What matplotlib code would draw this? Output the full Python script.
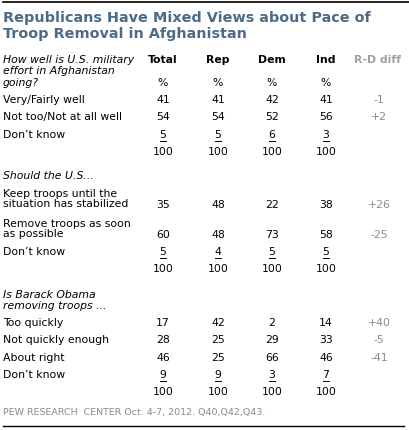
import matplotlib
matplotlib.use("Agg")
import matplotlib.pyplot as plt

title_lines = ["Republicans Have Mixed Views about Pace of", "Troop Removal in Afghanistan"]
columns = ["Total", "Rep", "Dem", "Ind"]
diff_header = "R-D diff"

q1_text = ["How well is U.S. military", "effort in Afghanistan", "going?"]
q1_rows = ["Very/Fairly well", "Not too/Not at all well", "Don\u2019t know"]
q1_values = [[41, 41, 42, 41], [54, 54, 52, 56], [5, 5, 6, 3]]
q1_diff = ["-1", "+2", ""]

q2_text = ["Should the U.S..."]
q2_rows = ["Keep troops until the\nsituation has stabilized", "Remove troops as soon\nas possible", "Don\u2019t know"]
q2_values = [[35, 48, 22, 38], [60, 48, 73, 58], [5, 4, 5, 5]]
q2_diff = ["+26", "-25", ""]

q3_text = ["Is Barack Obama", "removing troops ..."]
q3_rows = ["Too quickly", "Not quickly enough", "About right", "Don\u2019t know"]
q3_values = [[17, 42, 2, 14], [28, 25, 29, 33], [46, 25, 66, 46], [9, 9, 3, 7]]
q3_diff = ["+40", "-5", "-41", ""]

footer = "PEW RESEARCH  CENTER Oct. 4-7, 2012. Q40,Q42,Q43."

W, H = 409, 431
fig = plt.figure(figsize=(W / 100, H / 100), dpi=100)
ax = fig.add_axes([0, 0, 1, 1])
ax.set_xlim(0, W)
ax.set_ylim(H, 0)
ax.axis("off")

title_color = "#4d6a87"
grey = "#8c8c8c"
fs = 7.8
col_x = [163, 218, 272, 326]
diff_x = 378

ax.plot([3, 409], [3, 3], color="black", lw=1.2)
ax.plot([3, 404], [427, 427], color="black", lw=1.0)

for i, t in enumerate(title_lines):
    ax.text(3, 18 + i * 16, t, fontsize=10.4, fontweight="bold", color=title_color,
            va="center", ha="left")

for x, c in zip(col_x, columns):
    ax.text(x, 60, c, fontsize=fs, fontweight="bold", ha="center", va="center")
ax.text(diff_x, 60, diff_header, fontsize=fs, fontweight="bold", color="#a0a0a0",
        ha="center", va="center")


def value_cell(x, y, v, underline):
    ax.text(x, y, str(v), fontsize=fs, ha="center", va="center")
    if underline:
        w = 3.4 * len(str(v))
        ax.plot([x - w, x + w], [y + 6.5, y + 6.5], color="black", lw=0.7)


def block(qtext, qy, rows, values, diffs, row_y, total_y, pct_y=None):
    for i, t in enumerate(qtext):
        ax.text(3, qy + i * 11.5, t, fontsize=fs, style="italic", ha="left", va="center")
    if pct_y is not None:
        for x in col_x:
            ax.text(x, pct_y, "%", fontsize=fs, ha="center", va="center")
    for r, (label, vals, d, y) in enumerate(zip(rows, values, diffs, row_y)):
        nlines = label.count("\n") + 1
        ax.text(3, y - (nlines - 1) * 6, label, fontsize=fs, ha="left", va="center",
                linespacing=1.12)
        last = r == len(rows) - 1
        for x, v in zip(col_x, vals):
            value_cell(x, y, v, last)
        if d:
            ax.text(diff_x + 1, y, d, fontsize=fs, color=grey, ha="center", va="center")
    for x in col_x:
        ax.text(x, total_y, "100", fontsize=fs, ha="center", va="center")


block(q1_text, 60, q1_rows, q1_values, q1_diff, [100, 117, 135], 152, pct_y=83)
block(q2_text, 176, q2_rows, q2_values, q2_diff, [205, 235, 252], 269)
block(q3_text, 295, q3_rows, q3_values, q3_diff, [323, 340, 358, 375], 392)

ax.text(3, 413, footer, fontsize=6.8, color="#8a8a8a", ha="left", va="center")

fig.savefig("out.png", dpi=100)
